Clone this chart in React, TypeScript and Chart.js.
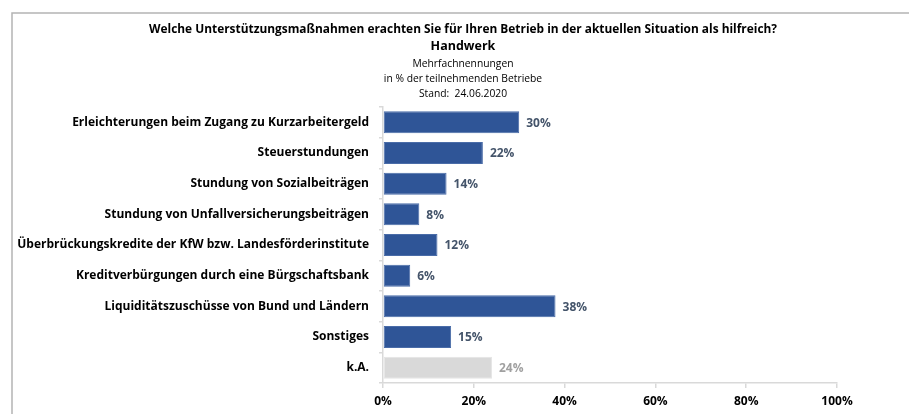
import React, { useEffect, useRef } from 'react';
import { Chart, registerables } from 'chart.js';
Chart.register(...registerables);

const categories = [
  'Erleichterungen beim Zugang zu Kurzarbeitergeld',
  'Steuerstundungen',
  'Stundung von Sozialbeiträgen',
  'Stundung von Unfallversicherungsbeiträgen',
  'Überbrückungskredite der KfW bzw. Landesförderinstitute',
  'Kreditverbürgungen durch eine Bürgschaftsbank',
  'Liquiditätszuschüsse von Bund und Ländern',
  'Sonstiges',
  'k.A.',
];
const values = [30, 22, 14, 8, 12, 6, 38, 15, 24];
const xTickValues = [0, 20, 40, 60, 80, 100];
const titleMain = 'Welche Unterstützungsmaßnahmen erachten Sie für Ihren Betrieb in der aktuellen Situation als hilfreich?';
const titleSub = 'Handwerk';
const subtitleLines = ['Mehrfachnennungen', 'in % der teilnehmenden Betriebe', 'Stand:  24.06.2020'];

const FONT = '"Open Sans", "Noto Sans", sans-serif';
const BLUE = '#2F5597';
const GREY = '#D9D9D9';

export default function App() {
  const ref = useRef<HTMLCanvasElement | null>(null);

  useEffect(() => {
    document.body.style.margin = '0';
    const canvas = ref.current;
    if (!canvas) return;

    const framePlugin = {
      id: 'frameAndTitles',
      beforeDraw(chart: any) {
        const ctx = chart.ctx;
        ctx.save();
        ctx.fillStyle = '#ffffff';
        ctx.fillRect(0, 0, chart.width, chart.height);
        ctx.strokeStyle = '#B4B4B4';
        ctx.lineWidth = 1.5;
        ctx.beginPath();
        ctx.moveTo(12, chart.height);
        ctx.lineTo(12, 13);
        ctx.lineTo(909, 13);
        ctx.stroke();
        ctx.restore();
      },
      afterDraw(chart: any) {
        const ctx = chart.ctx;
        ctx.save();
        ctx.fillStyle = '#000000';
        ctx.textAlign = 'center';
        ctx.textBaseline = 'middle';
        const cx = 463;
        ctx.font = `bold 11.9px ${FONT}`;
        ctx.fillText(titleMain, cx, 30);
        ctx.font = `bold 12.5px ${FONT}`;
        ctx.fillText(titleSub, cx, 46);
        ctx.font = `10.3px ${FONT}`;
        const ys = [64, 79, 94];
        subtitleLines.forEach((t, i) => ctx.fillText(t, cx, ys[i]));
        ctx.restore();
      },
    };

    const labelPlugin = {
      id: 'valueLabels',
      afterDatasetsDraw(chart: any) {
        const ctx = chart.ctx;
        const meta = chart.getDatasetMeta(0);
        ctx.save();
        ctx.font = `bold 12px ${FONT}`;
        ctx.textAlign = 'left';
        ctx.textBaseline = 'middle';
        meta.data.forEach((bar: any, i: number) => {
          ctx.fillStyle = i === values.length - 1 ? '#A0A0A0' : '#44546A';
          ctx.fillText(values[i] + '%', bar.x + 7, bar.y + 1);
        });
        ctx.restore();
      },
    };

    const chart = new Chart(canvas, {
      type: 'bar',
      data: {
        labels: categories,
        datasets: [
          {
            data: values,
            backgroundColor: values.map((_, i) => (i === values.length - 1 ? GREY : BLUE)),
            borderColor: values.map((_, i) => (i === values.length - 1 ? '#E4E4E4' : '#4A6CA8')),
            borderWidth: 1,
            borderSkipped: false,
            categoryPercentage: 1,
            barPercentage: 0.72,
          },
        ],
      },
      options: {
        indexAxis: 'y',
        animation: false,
        responsive: false,
        maintainAspectRatio: false,
        devicePixelRatio: 1,
        layout: { padding: { top: 107, right: 72, left: 0, bottom: 0 } },
        plugins: {
          legend: { display: false },
          tooltip: { enabled: false },
          title: { display: false },
        },
        scales: {
          x: {
            min: 0,
            max: 100,
            afterBuildTicks(scale: any) {
              scale.ticks = xTickValues.map((v) => ({ value: v }));
            },
            afterFit(scale: any) {
              scale.height = 31;
            },
            ticks: {
              callback: (v: any) => v + '%',
              color: '#000000',
              font: { family: FONT, size: 12, weight: 'bold' },
              padding: 6,
            },
            grid: {
              drawOnChartArea: false,
              drawTicks: true,
              tickLength: 5,
              color: '#D9D9D9',
              lineWidth: 1.5,
            },
            border: { display: true, color: '#D9D9D9', width: 1.5 },
          },
          y: {
            afterFit(scale: any) {
              scale.width = 383;
            },
            ticks: {
              color: '#000000',
              font: { family: FONT, size: 12, weight: 'bold' },
              padding: 10,
              autoSkip: false,
            },
            grid: {
              offset: true,
              drawOnChartArea: false,
              drawTicks: true,
              tickLength: 4,
              color: '#D9D9D9',
              lineWidth: 1.5,
            },
            border: { display: true, color: '#D9D9D9', width: 1.5 },
          },
        },
      },
      plugins: [framePlugin, labelPlugin],
    } as any);

    return () => chart.destroy();
  }, []);

  return (
    <div style={{ width: 909, height: 414, position: 'relative' }}>
      <canvas ref={ref} width={909} height={414} style={{ display: 'block' }} />
    </div>
  );
}
